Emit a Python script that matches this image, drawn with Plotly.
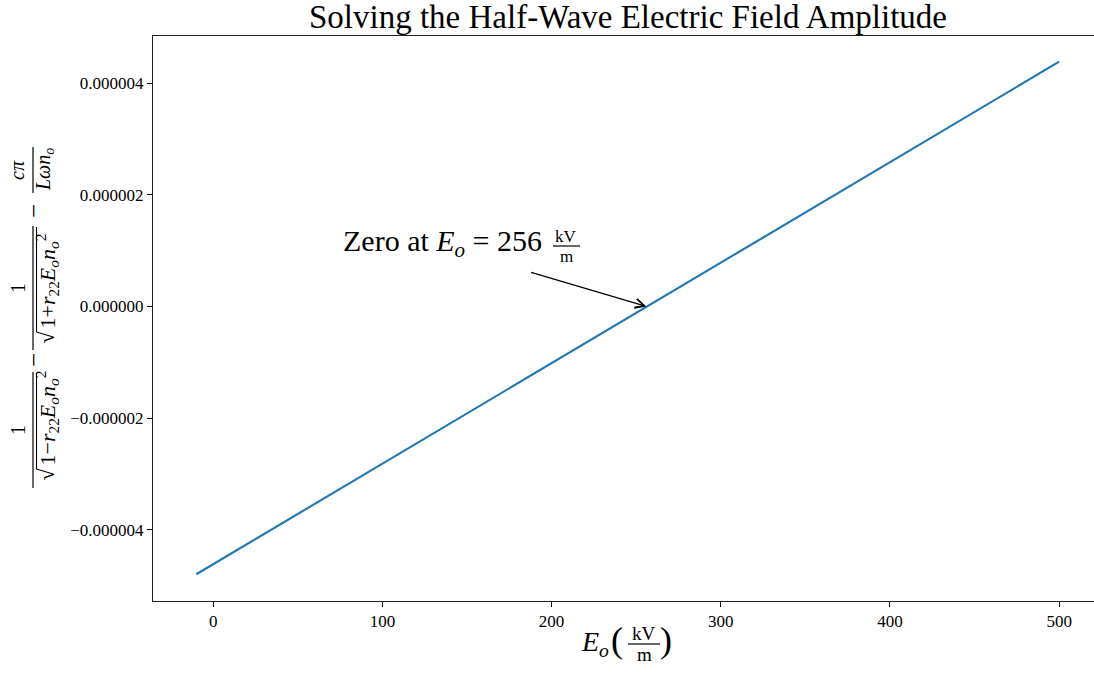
import plotly.graph_objects as go

# Applied field (kV/m) and the half-wave residual evaluated at each field value
E_field = [-10, 0, 100, 200, 256, 300, 400, 500]
residual = [-4.80e-6, -4.62e-6, -2.82e-6, -1.02e-6, 0.0, 0.79e-6, 2.59e-6, 4.39e-6]

E_zero = 256

x_tick_vals = [0, 100, 200, 300, 400, 500]
y_tick_vals = [-4e-6, -2e-6, 0.0, 2e-6, 4e-6]
y_tick_text = ["\u22120.000004", "\u22120.000002", "0.000000", "0.000002", "0.000004"]

SERIF = "Liberation Serif"
FIG_W, FIG_H = 1094, 674
M_L, M_R, M_T, M_B = 153, 0, 36, 73
PW = FIG_W - M_L - M_R
PH = FIG_H - M_T - M_B


def px(x):
    return (x - M_L) / PW


def py(y):
    return (FIG_H - M_B - y) / PH


def text_at(text, x, y, size, angle=0, xanchor="center", yanchor="middle"):
    return dict(text=text, x=px(x), y=py(y), xref="paper", yref="paper",
                showarrow=False, textangle=angle, xanchor=xanchor, yanchor=yanchor,
                borderpad=0, font=dict(family=SERIF, size=size, color="black"))


def rule(x0, y0, x1, y1, w=1.2):
    return dict(type="line", xref="paper", yref="paper",
                x0=px(x0), y0=py(y0), x1=px(x1), y1=py(y1),
                line=dict(color="black", width=w))


fig = go.Figure()
fig.add_trace(go.Scatter(x=E_field, y=residual, mode="lines",
                         line=dict(color="#1f77b4", width=2.1),
                         showlegend=False, hoverinfo="skip"))

annotations = []
shapes = []

# Arrow pointing at the root
annotations.append(dict(x=E_zero, y=0, xref="x", yref="y", ax=187, ay=0.62e-6,
                        axref="x", ayref="y", text="", showarrow=True,
                        arrowhead=5, arrowsize=1.4, arrowwidth=1.3,
                        arrowcolor="black", standoff=0))
annotations.append(text_at(f"Zero at <i>E</i><sub><i>o</i></sub> = {E_zero}", 342, 243, 30,
                           xanchor="left"))
annotations.append(text_at("kV", 566, 236, 17))
shapes.append(rule(553, 246, 580, 246))
annotations.append(text_at("m", 566, 256, 17))

# x-axis title: E_o (kV/m)
annotations.append(text_at("<i>E</i><sub><i>o</i></sub>", 595, 643, 28))
annotations.append(text_at("(", 617, 640, 36))
annotations.append(text_at("kV", 644, 633, 19))
shapes.append(rule(628, 644, 660, 644))
annotations.append(text_at("m", 644, 654, 19))
annotations.append(text_at(")", 666, 640, 36))

# y-axis title, rotated fractions
FS = 20
DS = 22
radicand = ("1{s}<i>r</i><sub>22</sub><i>E</i><sub><i>o</i></sub>"
            "<i>n</i><sub><i>o</i></sub><sup>2</sup>")


def sqrt_fraction(sign, y_bar0, y_bar1, y_root):
    # numerator, fraction bar, radical sign, radicand and its vinculum
    yc = (y_bar0 + y_bar1) / 2
    annotations.append(text_at("1", 18, yc, FS, angle=-90))
    shapes.append(rule(33, y_bar0, 33, y_bar1))
    annotations.append(text_at("\u221a", 46, y_root, DS, angle=-90, yanchor="top"))
    annotations.append(text_at(radicand.format(s=sign), 47, y_root, DS, angle=-90,
                               yanchor="bottom"))
    shapes.append(rule(36.5, y_bar0 + 1, 36.5, y_root + 2, w=1.1))


sqrt_fraction("\u2212", 372, 488, 467)
annotations.append(text_at("\u2212", 33, 360, 25, angle=-90))
sqrt_fraction("+", 226, 350, 330)
annotations.append(text_at("\u2212", 33, 211, 25, angle=-90))
# c pi / (L omega no)
annotations.append(text_at("<i>c\u03c0</i>", 17, 170, FS, angle=-90))
shapes.append(rule(33, 147, 33, 193))
annotations.append(text_at("<i>L\u03c9n</i><sub><i>o</i></sub>", 45, 170, FS, angle=-90))

fig.update_layout(
    width=FIG_W, height=FIG_H,
    margin=dict(l=M_L, r=M_R, t=M_T, b=M_B, pad=0),
    paper_bgcolor="white", plot_bgcolor="white",
    title=dict(text="Solving the Half-Wave Electric Field Amplitude",
               x=px(628), xref="paper", xanchor="center",
               y=1 - 16 / FIG_H, yref="container", yanchor="middle",
               font=dict(family=SERIF, size=33, color="black")),
    xaxis=dict(range=[-35.6, 520.6], tickvals=x_tick_vals,
               ticks="outside", ticklen=5, tickwidth=1.1, tickcolor="black",
               showline=True, linecolor="#222222", linewidth=1.1, mirror=True,
               showgrid=False, zeroline=False,
               tickfont=dict(family=SERIF, size=17, color="black")),
    yaxis=dict(range=[-5.28e-6, 4.85e-6], tickvals=y_tick_vals, ticktext=y_tick_text,
               ticks="outside", ticklen=5, tickwidth=1.1, tickcolor="black",
               showline=True, linecolor="#222222", linewidth=1.1, mirror=False,
               showgrid=False, zeroline=False,
               tickfont=dict(family=SERIF, size=17, color="black")),
    annotations=annotations,
    shapes=shapes,
)

fig.write_html("out.html")
